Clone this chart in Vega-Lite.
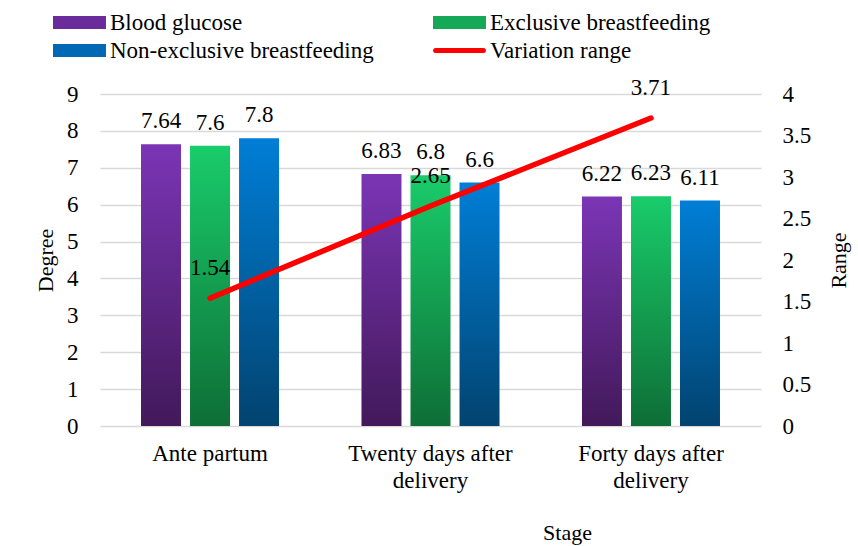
{
  "$schema": "https://vega.github.io/schema/vega-lite/v6.json",
  "width": 661,
  "height": 332,
  "autosize": "none",
  "padding": {"left": 100, "top": 94, "right": 97, "bottom": 120},
  "background": "white",
  "config": {
    "view": {"stroke": null},
    "font": "Liberation Serif",
    "axis": {
      "labelFont": "Liberation Serif",
      "titleFont": "Liberation Serif",
      "labelFontSize": 23,
      "titleFontSize": 22,
      "labelFontWeight": "normal",
      "labelColor": "#000000",
      "titleColor": "#000000",
      "titleFontWeight": "normal",
      "labelLimit": 400,
      "ticks": false,
      "domain": false
    },
    "text": {"font": "Liberation Serif", "fontSize": 23, "fontWeight": "normal", "color": "#000000"}
  },
  "datasets": {
    "bars": [
      {"stage": "Ante partum", "series": "Blood glucose", "value": 7.64},
      {"stage": "Ante partum", "series": "Exclusive breastfeeding", "value": 7.6},
      {"stage": "Ante partum", "series": "Non-exclusive breastfeeding", "value": 7.8},
      {"stage": "Twenty days after delivery", "series": "Blood glucose", "value": 6.83},
      {"stage": "Twenty days after delivery", "series": "Exclusive breastfeeding", "value": 6.8},
      {"stage": "Twenty days after delivery", "series": "Non-exclusive breastfeeding", "value": 6.6},
      {"stage": "Forty days after delivery", "series": "Blood glucose", "value": 6.22},
      {"stage": "Forty days after delivery", "series": "Exclusive breastfeeding", "value": 6.23},
      {"stage": "Forty days after delivery", "series": "Non-exclusive breastfeeding", "value": 6.11}
    ],
    "range": [
      {"stage": "Ante partum", "range": 1.54},
      {"stage": "Twenty days after delivery", "range": 2.65},
      {"stage": "Forty days after delivery", "range": 3.71}
    ],
    "legend": [
      {"series": "Blood glucose"},
      {"series": "Exclusive breastfeeding"},
      {"series": "Non-exclusive breastfeeding"},
      {"series": "Variation range"}
    ]
  },
  "layer": [
    {
      "data": {"name": "bars"},
      "encoding": {
        "x": {
          "field": "stage",
          "type": "nominal",
          "scale": {"domain": ["Ante partum", "Twenty days after delivery", "Forty days after delivery"], "paddingInner": 0.374, "paddingOuter": 0.186},
          "axis": {
            "title": "Stage",
            "labelAngle": 0,
            "labelPadding": 16,
            "labelLineHeight": 27,
            "labelExpr": "split(replace(datum.label, ' after ', ' after|'), '|')",
            "titleX": 467,
            "titleY": 106,
            "titleBaseline": "middle",
            "titleAlign": "center",
            "grid": false
          }
        },
        "xOffset": {
          "field": "series",
          "type": "nominal",
          "scale": {"domain": ["Blood glucose", "Exclusive breastfeeding", "Non-exclusive breastfeeding"], "paddingInner": 0.184, "paddingOuter": 0}
        },
        "y": {
          "field": "value",
          "type": "quantitative",
          "scale": {"domain": [0, 9], "nice": false},
          "axis": {
            "title": "Degree",
            "values": [0, 1, 2, 3, 4, 5, 6, 7, 8, 9],
            "grid": true,
            "gridColor": "#d9d9d9",
            "gridWidth": 1.5,
            "labelPadding": 22,
            "titleAngle": -90,
            "titleX": -55,
            "titleY": 166,
            "titleBaseline": "middle",
            "titleAlign": "center"
          }
        }
      },
      "layer": [
        {
          "transform": [{"filter": "datum.series === 'Blood glucose'"}],
          "mark": {"type": "bar", "color": {"gradient": "linear", "x1": 0, "y1": 1, "x2": 0, "y2": 0, "stops": [{"offset": 0, "color": "#42195a"}, {"offset": 1, "color": "#7b35b5"}]}}
        },
        {
          "transform": [{"filter": "datum.series === 'Exclusive breastfeeding'"}],
          "mark": {"type": "bar", "color": {"gradient": "linear", "x1": 0, "y1": 1, "x2": 0, "y2": 0, "stops": [{"offset": 0, "color": "#0e6e36"}, {"offset": 1, "color": "#19cc6a"}]}}
        },
        {
          "transform": [{"filter": "datum.series === 'Non-exclusive breastfeeding'"}],
          "mark": {"type": "bar", "color": {"gradient": "linear", "x1": 0, "y1": 1, "x2": 0, "y2": 0, "stops": [{"offset": 0, "color": "#02436f"}, {"offset": 1, "color": "#007ed6"}]}}
        },
        {
          "mark": {"type": "text", "baseline": "alphabetic", "dy": -16, "font": "Liberation Serif", "fontWeight": "normal"},
          "encoding": {"text": {"field": "value", "type": "quantitative", "format": ""}}
        }
      ]
    },
    {
      "data": {"name": "range"},
      "encoding": {
        "x": {
          "field": "stage",
          "type": "nominal",
          "scale": {"domain": ["Ante partum", "Twenty days after delivery", "Forty days after delivery"], "paddingInner": 0.374, "paddingOuter": 0.186},
          "axis": {
            "title": "Stage",
            "labelAngle": 0,
            "labelPadding": 16,
            "labelLineHeight": 27,
            "labelExpr": "split(replace(datum.label, ' after ', ' after|'), '|')",
            "titleX": 467,
            "titleY": 106,
            "titleBaseline": "middle",
            "titleAlign": "center",
            "grid": false
          }
        },
        "y": {
          "field": "range",
          "type": "quantitative",
          "scale": {"domain": [0, 4], "nice": false},
          "axis": {
            "orient": "right",
            "title": "Range",
            "values": [0, 0.5, 1, 1.5, 2, 2.5, 3, 3.5, 4],
            "format": "~g",
            "grid": false,
            "labelPadding": 21,
            "titleAngle": -90,
            "titleX": 77,
            "titleY": 166,
            "titleBaseline": "middle",
            "titleAlign": "center"
          }
        }
      },
      "layer": [
        {"mark": {"type": "line", "color": "#ff0000", "strokeWidth": 5.5, "strokeCap": "round"}},
        {
          "mark": {"type": "text", "baseline": "alphabetic", "dy": -23, "font": "Liberation Serif", "fontWeight": "normal"},
          "encoding": {"text": {"field": "range", "type": "quantitative", "format": ""}}
        }
      ]
    },
    {
      "data": {"name": "legend"},
      "mark": {"type": "point", "filled": true, "opacity": 0},
      "encoding": {
        "color": {
          "field": "series",
          "type": "nominal",
          "scale": {
            "domain": ["Blood glucose", "Exclusive breastfeeding", "Non-exclusive breastfeeding", "Variation range"],
            "range": ["#6a2c9a", "#14a857", "#0068b4", "#ff0000"]
          },
          "legend": {
            "title": null,
            "orient": "none",
            "legendX": -52,
            "legendY": -83,
            "direction": "horizontal",
            "columns": 2,
            "columnPadding": 49,
            "rowPadding": -5,
            "padding": 0,
            "symbolType": "M-1,-1H7.15V1H-1Z",
            "symbolSize": 169,
            "symbolStrokeWidth": 0,
            "symbolOpacity": 1,
            "labelFont": "Liberation Serif",
            "labelFontWeight": "normal",
            "labelFontSize": 23,
            "labelColor": "#000000",
            "labelOffset": 39,
            "labelLimit": 500,
            "encode": {
              "symbols": {
                "update": {
                  "opacity": {"value": 1},
                  "shape": {"signal": "datum.value === 'Variation range' ? 'M-0.6,0H6.75' : 'M-1,-1H7.15V1H-1Z'"},
                  "fill": {"signal": "datum.value === 'Blood glucose' ? {gradient: 'linear', x1: 0, y1: 1, x2: 0, y2: 0, stops: [{offset: 0, color: '#42195a'}, {offset: 1, color: '#7b35b5'}]} : datum.value === 'Exclusive breastfeeding' ? {gradient: 'linear', x1: 0, y1: 1, x2: 0, y2: 0, stops: [{offset: 0, color: '#0e6e36'}, {offset: 1, color: '#19cc6a'}]} : datum.value === 'Non-exclusive breastfeeding' ? {gradient: 'linear', x1: 0, y1: 1, x2: 0, y2: 0, stops: [{offset: 0, color: '#02436f'}, {offset: 1, color: '#007ed6'}]} : 'transparent'"},
                  "stroke": {"signal": "datum.value === 'Variation range' ? '#ff0000' : 'transparent'"},
                  "strokeWidth": {"value": 5},
                  "strokeCap": {"value": "round"}
                }
              }
            }
          }
        }
      }
    }
  ],
  "resolve": {"scale": {"y": "independent"}}
}
